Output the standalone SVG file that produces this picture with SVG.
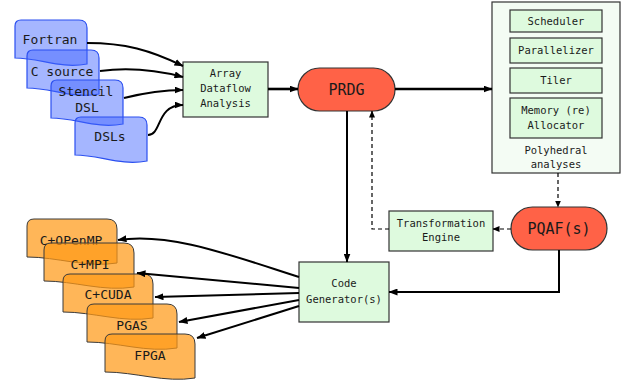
<svg xmlns="http://www.w3.org/2000/svg" xmlns:xlink="http://www.w3.org/1999/xlink" width="624" height="381" viewBox="0 0 624 381">
<style>
text{font-family:"DejaVu Sans Mono","Liberation Mono",monospace;fill:#1a1a1a;text-anchor:middle}
.s{font-size:10.5px}
.m{font-size:13px}
.l{font-size:15px}
.blue{fill:#3f63ff;fill-opacity:0.47;stroke:#2a4ff0;stroke-width:1.2}
.orange{fill:#ff9a18;fill-opacity:0.72;stroke:#3a3a3a;stroke-width:1}
.box{fill:#defade;stroke:#333;stroke-width:1.2}
.outer{fill:#f4fcf4;stroke:#333;stroke-width:1.2}
.red{fill:#ff6247;stroke:#333;stroke-width:1.2}
.c{fill:none;stroke:#000;stroke-width:2}
.ct{fill:none;stroke:#000;stroke-width:2.6}
.d{fill:none;stroke:#000;stroke-width:1.2;stroke-dasharray:4 3}
</style>
<defs>
<path id="docB" d="M0,6 Q0,0 6,0 H64 Q72,0 72,8 V44 C45,49 25,38 0,38 Z"/>
<path id="docO" d="M0,7 Q0,0 7,0 H80 Q90,0 90,10 V44 C60,49 30,38 0,38 Z"/>
<marker id="a" viewBox="0 0 9 7" markerWidth="9" markerHeight="7" refX="8.5" refY="3.5" orient="auto" markerUnits="userSpaceOnUse">
<path d="M0,0 L9,3.5 L0,7 Z" fill="#000"/>
</marker>
<marker id="ad" viewBox="0 0 7 6" markerWidth="7" markerHeight="6" refX="6.5" refY="3" orient="auto" markerUnits="userSpaceOnUse">
<path d="M0,0 L7,3 L0,6 Z" fill="#000"/>
</marker>
</defs>

<g id="fortran"><use xlink:href="#docB" href="#docB" x="15" y="20" class="blue"/><text class="m" x="50" y="44">Fortran</text></g>
<g id="csource"><use xlink:href="#docB" href="#docB" x="27" y="50" class="blue"/><text class="m" x="62" y="76">C source</text></g>
<g id="stencil"><use xlink:href="#docB" href="#docB" x="51" y="80" class="blue"/><text class="m" x="86" y="96">Stencil</text><text class="m" x="87" y="112">DSL</text></g>
<g id="dsls"><use xlink:href="#docB" href="#docB" x="75" y="117" class="blue"/><text class="m" x="110" y="141">DSLs</text></g>

<g id="ada"><rect class="box" x="183" y="62" width="85" height="55"/><text class="s" x="225.5" y="77">Array</text><text class="s" x="225.5" y="92">Dataflow</text><text class="s" x="225.5" y="107">Analysis</text></g>

<g id="prdg"><rect class="red" x="298" y="68" width="97" height="43" rx="21.5"/><text class="l" x="346.5" y="95">PRDG</text></g>

<g id="polyhedral"><rect class="outer" x="492" y="2" width="128" height="171"/>
<rect class="box" x="510" y="10" width="92" height="22"/><text class="s" x="556" y="25">Scheduler</text>
<rect class="box" x="510" y="38" width="92" height="25"/><text class="s" x="556" y="54">Parallelizer</text>
<rect class="box" x="510" y="68" width="92" height="25"/><text class="s" x="556" y="84">Tiler</text>
<rect class="box" x="510" y="98" width="92" height="40"/><text class="s" x="556" y="114">Memory (re)</text><text class="s" x="556" y="129">Allocator</text>
<text class="s" x="556" y="154">Polyhedral</text><text class="s" x="556" y="168">analyses</text></g>

<g id="pqaf"><rect class="red" x="511" y="207" width="96" height="43" rx="21.5"/><text class="l" x="559" y="234">PQAF(s)</text></g>

<g id="transform"><rect class="box" x="389" y="211" width="104" height="40"/><text class="s" x="441" y="227">Transformation</text><text class="s" x="441" y="241">Engine</text></g>

<g id="codegen"><rect class="box" x="299" y="262" width="90" height="60"/><text class="s" x="344" y="287">Code</text><text class="s" x="344" y="303">Generator(s)</text></g>

<g id="openmp"><use xlink:href="#docO" href="#docO" x="27" y="219" class="orange"/><text class="m" x="71" y="245">C+OPenMP</text></g>
<g id="mpi"><use xlink:href="#docO" href="#docO" x="44" y="243" class="orange"/><text class="m" x="90" y="269">C+MPI</text></g>
<g id="cuda"><use xlink:href="#docO" href="#docO" x="63" y="274" class="orange"/><text class="m" x="108" y="299">C+CUDA</text></g>
<g id="pgas"><use xlink:href="#docO" href="#docO" x="87" y="304" class="orange"/><text class="m" x="132" y="330">PGAS</text></g>
<g id="fpga"><use xlink:href="#docO" href="#docO" x="105" y="334" class="orange"/><text class="m" x="150" y="360">FPGA</text></g>

<g id="connectors">
<path class="c" d="M87,43 C125,43 150,50 183,66" marker-end="url(#a)"/>
<path class="c" d="M100,71 C130,67 160,71 183,77" marker-end="url(#a)"/>
<path class="c" d="M124,98 C140,94 160,90 183,90" marker-end="url(#a)"/>
<path class="c" d="M148,135 C162,135 156,105 183,105" marker-end="url(#a)"/>
<path class="ct" d="M268,89 H298" marker-end="url(#a)"/>
<path class="ct" d="M395,89 H492" marker-end="url(#a)"/>
<path class="d" d="M558,173 V207" marker-end="url(#ad)"/>
<path class="d" d="M511,229 H493" marker-end="url(#ad)"/>
<path class="d" d="M389,229 H372 V111" marker-end="url(#ad)"/>
<path class="c" d="M347,111 V262" marker-end="url(#a)"/>
<path class="c" d="M559,250 V292 H389" marker-end="url(#a)"/>
<path class="c" d="M299,277 C230,255 170,232 118,240" marker-end="url(#a)"/>
<path class="c" d="M299,288 L137,273" marker-end="url(#a)"/>
<path class="c" d="M299,293 L155,297" marker-end="url(#a)"/>
<path class="c" d="M299,300 L179,322" marker-end="url(#a)"/>
<path class="c" d="M299,306 L197,338" marker-end="url(#a)"/>
</g>
</svg>
